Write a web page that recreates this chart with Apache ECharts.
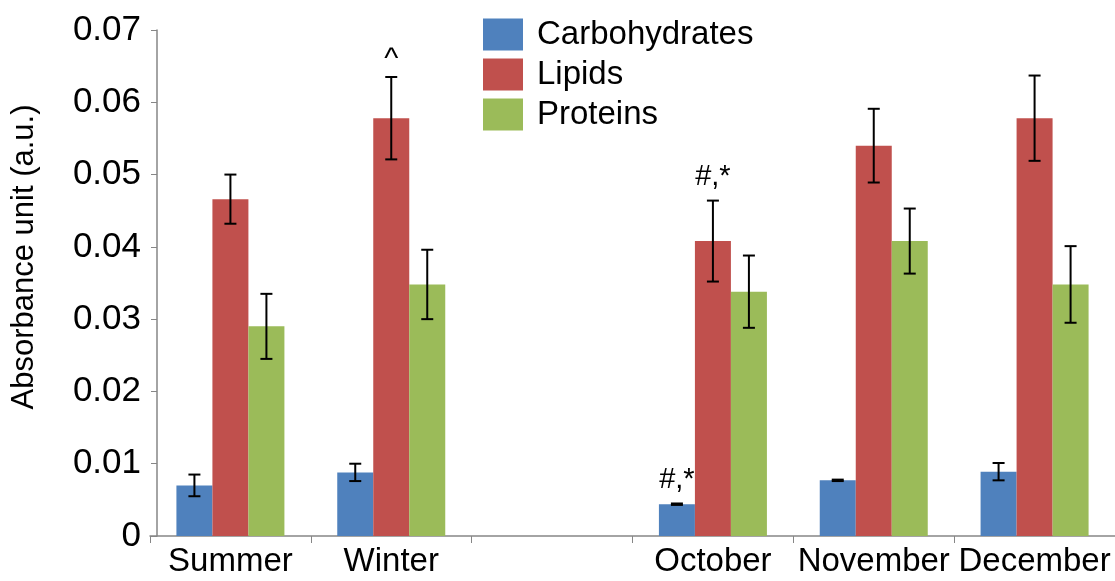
<!DOCTYPE html>
<html>
<head>
<meta charset="utf-8">
<script src="https://cdn.jsdelivr.net/npm/echarts@6/dist/echarts.min.js"></script>
<style>
  html, body { margin: 0; padding: 0; background: #fff; }
  #chart { width: 1115px; height: 581px; }
</style>
</head>
<body>
<div id="chart"></div>
<script>
// Categories (the empty slot separates the seasonal and monthly groups)
const categories = ['Summer', 'Winter', '', 'October', 'November', 'December'];

// Mean absorbance per class
const carbohydrates = [0.0070, 0.0088, null, 0.0044, 0.0077, 0.0089];
const lipids        = [0.0466, 0.0578, null, 0.0408, 0.0540, 0.0578];
const proteins      = [0.0290, 0.0348, null, 0.0338, 0.0408, 0.0348];

// Error (± half-range) per class
const carbohydratesErr = [0.0015, 0.0012, null, 0.0001, 0.0001, 0.0012];
const lipidsErr        = [0.0034, 0.0057, null, 0.0056, 0.0051, 0.0059];
const proteinsErr      = [0.0045, 0.0048, null, 0.0050, 0.0045, 0.0053];

// Significance marks drawn above the error bars
const carbohydratesNotes = ['', '', '', '#,*', '', ''];
const lipidsNotes        = ['', '^', '', '#,*', '', ''];
const proteinsNotes      = ['', '', '', '', '', ''];

// Y-axis tick labels
const yTickLabels = ['0', '0.01', '0.02', '0.03', '0.04', '0.05', '0.06', '0.07'];

const seriesNames = ['Carbohydrates', 'Lipids', 'Proteins'];
const colors = ['#4F81BD', '#C0504D', '#9BBB59'];
const values = [carbohydrates, lipids, proteins];
const errors = [carbohydratesErr, lipidsErr, proteinsErr];
const notes = [carbohydratesNotes, lipidsNotes, proteinsNotes];

const BAR_W = 36;
const FONT = "'Liberation Sans', Arial, sans-serif";

// Error-bar items: [category index, series index, value, error]
const errorData = [];
const errorNotes = [];
values.forEach((vals, s) => {
  vals.forEach((v, i) => {
    if (v != null) {
      errorData.push([i, s, v, errors[s][i]]);
      errorNotes.push(notes[s][i]);
    }
  });
});

function renderErrorBar(params, api) {
  const ci = api.value(0);
  const si = api.value(1);
  const v = api.value(2);
  const e = api.value(3);
  const note = errorNotes[params.dataIndex];
  const dx = (si - 1) * BAR_W;
  const hi = api.coord([ci, v + e]);
  const lo = api.coord([ci, v - e]);
  const x = hi[0] + dx;
  const cap = 6;
  const style = { stroke: '#000', lineWidth: 2 };
  const children = [
    { type: 'line', shape: { x1: x, y1: hi[1], x2: x, y2: lo[1] }, style },
    { type: 'line', shape: { x1: x - cap, y1: hi[1], x2: x + cap, y2: hi[1] }, style },
    { type: 'line', shape: { x1: x - cap, y1: lo[1], x2: x + cap, y2: lo[1] }, style }
  ];
  if (note) {
    const isCaret = note === '^';
    children.push({
      type: 'text',
      style: {
        text: note,
        x: x,
        y: hi[1] - (isCaret ? 2 : 9),
        align: 'center',
        verticalAlign: 'bottom',
        fill: '#000',
        font: (isCaret ? '30px ' : '29px ') + FONT
      }
    });
  }
  return { type: 'group', children };
}

const chart = echarts.init(document.getElementById('chart'), null, { renderer: 'canvas' });

const barSeries = seriesNames.map((name, s) => ({
  name,
  type: 'bar',
  data: values[s],
  barWidth: BAR_W,
  barGap: '0%',
  itemStyle: { color: colors[s] },
  emphasis: { disabled: true },
  animation: false
}));

chart.setOption({
  animation: false,
  textStyle: { fontFamily: FONT },
  grid: { left: 150, right: -5, top: 30, bottom: 45, containLabel: false },
  legend: {
    data: seriesNames,
    orient: 'vertical',
    left: 483,
    top: 18,
    itemWidth: 40,
    itemHeight: 32,
    itemGap: 7,
    icon: 'rect',
    padding: 0,
    textStyle: { fontSize: 33, color: '#000', fontFamily: FONT, padding: [0, 0, 0, 9] },
    selectedMode: false
  },
  xAxis: {
    type: 'category',
    data: categories,
    axisLine: { lineStyle: { color: '#868686', width: 1.5 } },
    axisTick: { show: true, length: 7, lineStyle: { color: '#868686' } },
    axisLabel: { fontSize: 33, color: '#000', margin: 9, fontFamily: FONT, interval: 0 },
    splitLine: { show: false }
  },
  yAxis: {
    type: 'value',
    min: 0,
    max: 0.07,
    interval: 0.01,
    offset: -7,
    name: 'Absorbance unit (a.u.)',
    nameLocation: 'middle',
    nameGap: 117,
    nameTextStyle: { fontSize: 31, color: '#000', fontFamily: FONT, padding: [0, 0, 0, 52] },
    axisLine: { show: true, lineStyle: { color: '#868686', width: 1.5 } },
    axisTick: { show: true, length: 6, lineStyle: { color: '#868686' } },
    axisLabel: {
      fontSize: 35,
      color: '#000',
      margin: 16,
      fontFamily: FONT,
      formatter: (v) => yTickLabels[Math.round(v / 0.01)]
    },
    splitLine: { show: false }
  },
  series: [
    ...barSeries,
    {
      type: 'custom',
      name: 'errors',
      renderItem: renderErrorBar,
      data: errorData,
      encode: { x: 0, y: 2 },
      z: 10,
      silent: true
    }
  ]
});
</script>
</body>
</html>
